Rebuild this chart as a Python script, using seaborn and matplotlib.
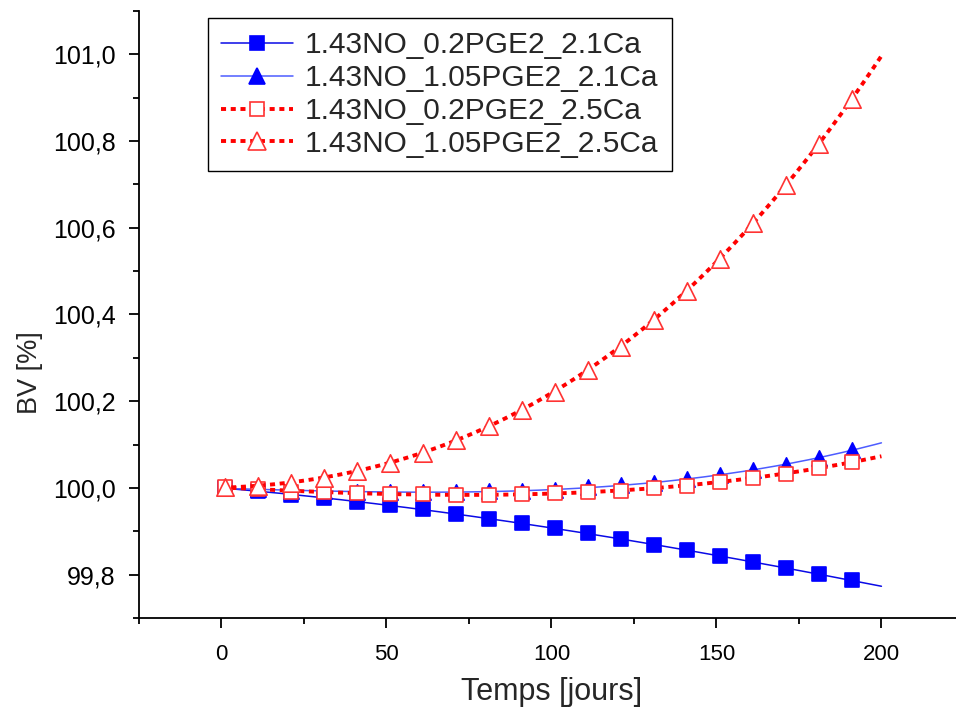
import numpy as np
import pandas as pd
import matplotlib
matplotlib.use("Agg")
import matplotlib.pyplot as plt
from matplotlib.lines import Line2D
from matplotlib.ticker import FuncFormatter, MultipleLocator
import seaborn as sns

# ---- data ----
days = [1, 11, 21, 31, 41, 51, 61, 71, 81, 91,
        101, 111, 121, 131, 141, 151, 161, 171, 181, 191]

s1_label = "1.43NO_0.2PGE2_2.1Ca"
s1_values = [100.000, 99.993, 99.984, 99.976, 99.968, 99.960, 99.951, 99.940, 99.929, 99.918,
             99.907, 99.896, 99.882, 99.868, 99.857, 99.843, 99.829, 99.815, 99.801, 99.787]

s2_label = "1.43NO_1.05PGE2_2.1Ca"
s2_values = [100.000, 99.997, 99.993, 99.992, 99.991, 99.991, 99.991, 99.991, 99.992, 99.993,
             99.996, 100.002, 100.006, 100.012, 100.020, 100.030, 100.042, 100.054, 100.069, 100.088]

s3_label = "1.43NO_0.2PGE2_2.5Ca"
s3_values = [100.002, 99.998, 99.991, 99.990, 99.988, 99.986, 99.985, 99.984, 99.984, 99.986,
             99.988, 99.991, 99.993, 100.000, 100.005, 100.014, 100.023, 100.032, 100.046, 100.060]

s4_label = "1.43NO_1.05PGE2_2.5Ca"
s4_values = [100.002, 100.004, 100.012, 100.024, 100.039, 100.058, 100.081, 100.111, 100.143, 100.180,
             100.222, 100.273, 100.326, 100.388, 100.455, 100.529, 100.610, 100.698, 100.793, 100.897]

fit_range = [0, 200]
y_ticks = [99.8, 100.0, 100.2, 100.4, 100.6, 100.8, 101.0]
x_ticks = [0, 50, 100, 150, 200]

# ---- style ----
sns.set_style("ticks")
plt.rcParams["font.family"] = ["Liberation Sans", "DejaVu Sans"]

fig = plt.figure(figsize=(9.56, 7.13), dpi=100)
ax = fig.add_axes([139 / 956, 1 - 618 / 713, 1 - 139 / 956, (618 - 11) / 713])

series = [
    dict(label=s1_label, y=s1_values, marker="s", ms=10, face="#0000ff", edge="#0000ff",
         lcolor="#0a0ae6", ls="-", lw=1.1),
    dict(label=s2_label, y=s2_values, marker="^", ms=11, face="#0000ff", edge="#0000ff",
         lcolor="#4d5cff", ls="-", lw=1.1),
    dict(label=s3_label, y=s3_values, marker="s", ms=10, face="white", edge="#ff3333",
         lcolor="#ff0000", ls=(0, (1.3, 1.2)), lw=2.8),
    dict(label=s4_label, y=s4_values, marker="^", ms=12.5, face="white", edge="#ff3333",
         lcolor="#ff0000", ls=(0, (1.3, 1.2)), lw=2.8),
]

fit_x = np.linspace(fit_range[0], fit_range[1], 201)
handles = []
for i, s in enumerate(series):
    coef = np.polyfit(days, s["y"], 3)
    fit_df = pd.DataFrame({"x": fit_x, "y": np.polyval(coef, fit_x)})
    sns.lineplot(data=fit_df, x="x", y="y", ax=ax, color=s["lcolor"], linestyle=s["ls"],
                 linewidth=s["lw"], zorder=2 + 2 * i, legend=False)
    pts = pd.DataFrame({"x": days, "y": s["y"]})
    sns.scatterplot(data=pts, x="x", y="y", ax=ax, marker=s["marker"], s=s["ms"] ** 2,
                    facecolor=s["face"], edgecolor=s["edge"], linewidth=1.2,
                    zorder=3 + 2 * i, legend=False)
    handles.append(Line2D([], [], color=s["lcolor"], linestyle=s["ls"], linewidth=s["lw"],
                          marker=s["marker"], markersize=s["ms"], markerfacecolor=s["face"],
                          markeredgecolor=s["edge"], markeredgewidth=1.2, label=s["label"]))

ax.set_xlim(-25, 222.6)
ax.set_ylim(99.7, 101.1)
ax.set_xticks(x_ticks)
ax.set_yticks(y_ticks)
ax.xaxis.set_minor_locator(MultipleLocator(25))
ax.yaxis.set_minor_locator(MultipleLocator(0.1))
ax.yaxis.set_major_formatter(FuncFormatter(lambda v, p: f"{v:.1f}".replace(".", ",")))

for side in ["top", "right"]:
    ax.spines[side].set_visible(False)
for side in ["left", "bottom"]:
    ax.spines[side].set_linewidth(1.3)
    ax.spines[side].set_color("black")

ax.tick_params(axis="both", which="major", direction="out", length=7, width=1.3,
               colors="black")
ax.tick_params(axis="x", which="major", labelsize=16, pad=12)
ax.tick_params(axis="y", which="major", labelsize=18, pad=10)
ax.tick_params(axis="both", which="minor", direction="out", length=4.5, width=1.3,
               colors="black")

ax.set_xlabel("Temps [jours]", fontsize=22)
ax.set_ylabel("BV [%]", fontsize=19.5)
ax.xaxis.set_label_coords(0.505, -0.122)
ax.yaxis.set_label_coords(-0.133, 0.405)
ax.xaxis.label.set_va("center")
ax.yaxis.label.set_va("center")

leg = ax.legend(handles=handles, loc="upper left",
                bbox_to_anchor=(208 / 956, 1 - 18 / 713), bbox_transform=fig.transFigure,
                borderaxespad=0, fontsize=21.5, frameon=True, fancybox=False,
                handlelength=2.4, handletextpad=0.4, labelspacing=0.16,
                borderpad=0.45, edgecolor="black", framealpha=1)
leg.get_frame().set_linewidth(1.0)

fig.savefig("out.png", dpi=100)
